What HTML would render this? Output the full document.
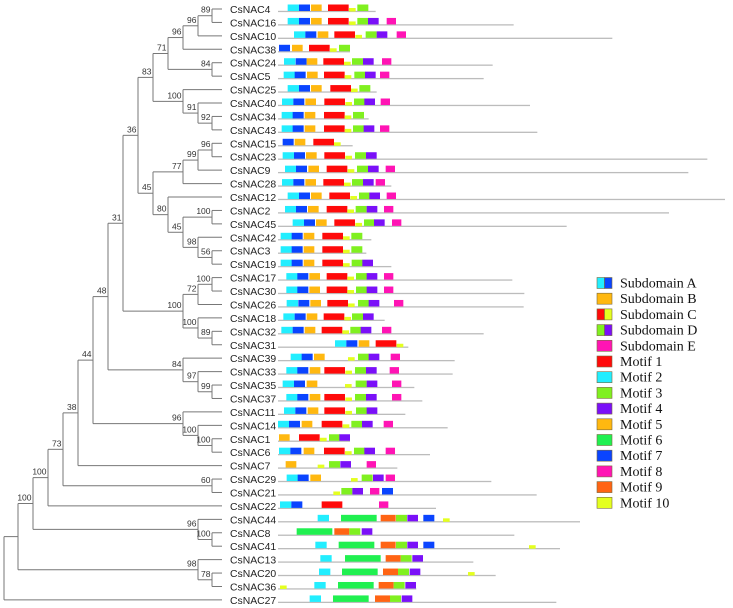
<!DOCTYPE html>
<html><head><meta charset="utf-8">
<style>
html,body{margin:0;padding:0;background:#fff;}
svg{display:block;}
.lbl{font-family:"Liberation Sans",sans-serif;font-size:10.4px;fill:#222;}
.bs{font-family:"Liberation Sans",sans-serif;font-size:8.5px;fill:#333;}
.lg{font-family:"Liberation Serif",serif;font-size:14px;fill:#111;}
</style></head>
<body>
<svg id="chart" width="733" height="608" viewBox="0 0 733 608" xmlns="http://www.w3.org/2000/svg">
<g id="tree"></g>
<g id="labels"></g>
<g id="motifs"></g>
<g id="legend"></g>
</svg>
<script>
// ----- data -----
const geneNames = ["CsNAC4","CsNAC16","CsNAC10","CsNAC38","CsNAC24","CsNAC5","CsNAC25","CsNAC40","CsNAC34","CsNAC43","CsNAC15","CsNAC23","CsNAC9","CsNAC28","CsNAC12","CsNAC2","CsNAC45","CsNAC42","CsNAC3","CsNAC19","CsNAC17","CsNAC30","CsNAC26","CsNAC18","CsNAC32","CsNAC31","CsNAC39","CsNAC33","CsNAC35","CsNAC37","CsNAC11","CsNAC14","CsNAC1","CsNAC6","CsNAC7","CsNAC29","CsNAC21","CsNAC22","CsNAC44","CsNAC8","CsNAC41","CsNAC13","CsNAC20","CsNAC36","CsNAC27"];
// protein lengths (sequence units)
const seqLengths = [317,731,1027,240,668,641,320,780,296,802,248,1312,1255,364,1365,1197,890,304,289,364,727,763,761,344,641,415,554,548,433,457,406,533,240,480,382,664,800,498,930,733,870,610,677,439,859];
// motif occurrences: "motif:start" in sequence units
const motifSites = [
"2:53 7:87 5:123 1:174 10:237 3:262",
"2:53 7:87 5:123 1:174 10:237 3:262 4:294 8:350",
"2:72 7:106 5:143 1:193 10:256 3:287 4:320 8:380",
"7:27 5:66 1:117 10:180 3:207",
"2:42 7:77 5:110 1:160 10:222 3:246 4:279 8:336",
"2:41 7:74 5:111 1:162 10:224 3:253 4:285 8:330",
"2:53 7:87 5:123 1:181 10:243 3:268",
"2:36 7:70 5:106 1:163 10:226 3:252 4:283 8:332",
"2:35 7:68 5:104 1:162 10:224 3:249",
"2:35 7:68 5:104 1:162 10:224 3:249 4:281 8:330",
"7:38 5:74 1:130 10:192",
"2:38 7:72 5:108 1:163 10:226 3:255 4:288",
"2:45 7:78 5:115 1:170 10:233 3:261 4:294 8:347",
"2:36 7:70 5:106 1:160 10:222 3:246 4:279 8:317",
"2:53 7:87 5:123 1:178 10:241 3:267 4:298 8:350",
"2:45 7:78 5:114 1:170 10:232 3:257 4:290 8:342",
"2:68 7:102 5:138 1:193 10:256 3:282 4:312 8:366",
"2:32 7:65 5:101 1:157 10:219 3:244",
"2:32 7:65 5:101 1:157 10:219 3:244",
"2:32 7:65 5:101 1:157 10:219 3:245 4:277",
"2:49 7:82 5:118 1:170 10:232 3:258 4:290 8:342",
"2:49 7:82 5:118 1:170 10:232 3:258 4:290 8:342",
"2:50 7:85 5:121 1:172 10:234 3:264 4:296 8:372",
"2:40 7:74 5:110 1:161 10:223 3:246 4:279",
"2:34 7:68 5:104 1:155 10:217 3:241 4:272 8:336",
"2:195 7:229 5:266 1:317 10:380",
"2:62 7:95 5:132 10:234 3:264 4:296 8:362",
"2:49 7:82 5:119 1:163 10:226 3:255 4:288 8:359",
"2:38 7:72 5:110 10:225 3:257 4:290 8:366",
"2:49 7:82 5:119 1:163 10:226 3:255 4:288 8:366",
"2:42 7:76 5:113 1:163 10:226 3:258 4:290",
"2:24 7:57 5:95 1:155 10:218 3:244 4:276 8:341",
"5:27 1:87 10:150 3:177 4:208",
"2:27 7:61 5:101 1:162 10:225 3:252 4:283 8:347",
"5:47 10:143 3:177 4:211 8:290",
"2:50 7:83 5:121 10:243 3:275 4:309 8:347",
"10:190 3:214 4:247 8:300 7:336",
"2:30 7:64 1:155 8:327",
"2:143 6:213 9:332 3:378 4:412 7:460 10:519",
"6:80 9:193 3:238 4:275",
"2:136 6:206 9:332 3:378 4:412 7:460 10:777",
"2:151 6:225 9:347 3:392 4:427",
"2:147 6:216 9:339 3:384 4:419 10:594",
"10:30 2:133 6:204 9:326 3:371 4:406",
"2:119 6:189 9:315 3:360 4:395"
];
const motifLengths = {1:62,2:34,3:33,4:32,5:32,6:107,7:33,8:28,9:45,10:20};
// tree: [depth position, bootstrap, children] ; leaves = gene index
const treeData =
[4,"",[[18,"",[[33,"100",[[48,"100",[[63,"73",[[78,"38",[[93,"44",[[108,"48",[[123,"31",[[138,"36",[
  [153,"83",[[168,"71",[[183,"96",[[198,"96",[[212,"89",[0,1]],2]],3]],[212,"84",[4,5]]]],
             [183,"100",[6,[198,"91",[7,[212,"92",[8,9]]]]]]]],
  [153,"45",[[183,"77",[[198,"99",[[212,"96",[10,11]],12]],13]],
             [168,"80",[14,[183,"45",[[212,"100",[15,16]],[198,"98",[17,[212,"56",[18,19]]]]]]]]]]]],
  [183,"100",[[198,"72",[[212,"100",[20,21]],22]],[198,"100",[23,[212,"89",[24,25]]]]]]]],
  [183,"84",[26,[198,"97",[27,[212,"99",[28,29]]]]]]]],
  [183,"96",[30,[198,"100",[31,[212,"100",[32,33]]]]]]]],34]],
  [212,"60",[35,36]]]],37]],
  [198,"96",[38,[212,"100",[39,40]]]]]],
  [198,"98",[41,[212,"78",[42,43]]]]]],44]];
const legendLabels = ["Subdomain A","Subdomain B","Subdomain C","Subdomain D","Subdomain E","Motif 1","Motif 2","Motif 3","Motif 4","Motif 5","Motif 6","Motif 7","Motif 8","Motif 9","Motif 10"];
const legendColors = [["m2","m7"],["m5"],["m1","m10"],["m3","m4"],["m8"],["m1"],["m2"],["m3"],["m4"],["m5"],["m6"],["m7"],["m8"],["m9"],["m10"]];

// ----- rendering -----
const NS="http://www.w3.org/2000/svg";
const colors={m1:"#ff0a0a",m2:"#22eeff",m3:"#80f020",m4:"#7a10f8",m5:"#ffb810",m6:"#20f050",m7:"#0a44ff",m8:"#ff14b4",m9:"#ff6414",m10:"#e4ff20"};
const rowY = i => 9 + i*13.43;
const seqX = p => 270 + p/3;
const leafX = 222;
function mk(tag,attrs,parent){const e=document.createElementNS(NS,tag);for(const k in attrs)e.setAttribute(k,attrs[k]);parent.appendChild(e);return e;}
const gT=document.getElementById('tree'),gL=document.getElementById('labels'),gM=document.getElementById('motifs'),gG=document.getElementById('legend');

function draw(node){
  if(typeof node==="number"){return {y:rowY(node), x:leafX};}
  const [x,bs,kids]=node;
  const pts=kids.map(k=>{const r=draw(k);return r;});
  kids.forEach((k,j)=>{
    const l=mk('line',{x1:x,y1:pts[j].y,x2:(typeof k==="number")?leafX:k[0],y2:pts[j].y,stroke:"#777","stroke-width":1},gT);
    
    
  });
  const y1=Math.min(...pts.map(p=>p.y)),y2=Math.max(...pts.map(p=>p.y));
  const v=mk('line',{x1:x,y1:y1,x2:x,y2:y2,stroke:"#777","stroke-width":1},gT);
  
  
  const cy=(y1+y2)/2;
  if(bs){
    const t=mk('text',{x:x-1.5,y:cy-3,"text-anchor":"end",class:"bs"},gT);t.textContent=bs;
    
    
  }
  return {y:cy,x:x};
}
const root=draw(treeData);
const rs=mk('line',{x1:4,y1:root.y,x2:treeData[0],y2:root.y,stroke:"#777"},gT);



geneNames.forEach((n,i)=>{
  const y=rowY(i);
  const t=mk('text',{x:230,y:y+4,class:"lbl"},gL);t.textContent=n;
  
  
  const g=mk('g',{},gM);
  
  
  const ln=mk('rect',{x:seqX(0)+8,y:y+1.8,width:seqLengths[i]/3-8,height:1.3,fill:"#bcbcbc"},g);
  
  
  motifSites[i].split(' ').forEach(s=>{
    const [m,p]=s.split(':').map(Number);
    const small=(m===10);
    const r=mk('rect',{x:seqX(p),y:small?y-1:y-4.5,width:motifLengths[m]/3,height:small?3.5:6.5,fill:colors['m'+m]},g);
    
    
  });
});

legendLabels.forEach((lab,i)=>{
  const y=283+i*15.7;
  const g=mk('g',{},gG);
  
  
  const cs=legendColors[i];
  const w=15/cs.length;
  cs.forEach((c,j)=>{mk('rect',{x:597+j*w,y:y-5.5,width:w,height:11,fill:colors[c],stroke:"#7a6a40","stroke-width":0.6},g);});
  const t=mk('text',{x:620,y:y+4.5,class:"lg"},g);t.textContent=lab;
});
</script>
</body></html>
